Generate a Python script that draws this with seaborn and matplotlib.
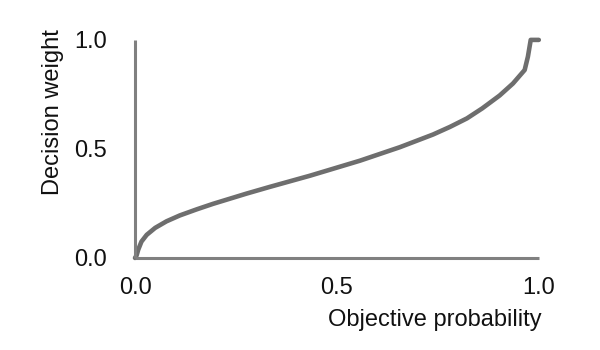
import matplotlib
matplotlib.use("Agg")
import matplotlib.pyplot as plt
import seaborn as sns
import pandas as pd

# Probability weighting curve: objective probability -> decision weight
objective_probability = [0.0, 0.004, 0.008, 0.016, 0.029, 0.050, 0.078, 0.111,
                         0.153, 0.193, 0.276, 0.334, 0.433, 0.557, 0.656,
                         0.738, 0.780, 0.822, 0.860, 0.903, 0.936, 0.965,
                         0.973, 0.980, 1.0]
decision_weight = [0.0, 0.012, 0.038, 0.075, 0.106, 0.138, 0.168, 0.195,
                   0.223, 0.248, 0.295, 0.326, 0.377, 0.446, 0.508, 0.566,
                   0.601, 0.640, 0.686, 0.745, 0.800, 0.862, 0.923, 1.0, 1.0]
tick_values = [0.0, 0.5, 1.0]
tick_labels = ["0.0", "0.5", "1.0"]

sns.set_theme(style="white")
plt.rcParams["font.family"] = ["Liberation Sans", "DejaVu Sans"]

df = pd.DataFrame({"p": objective_probability, "w": decision_weight})

fig = plt.figure(figsize=(6, 3.5), dpi=100)
ax = fig.add_axes([0.225, 0.263, 0.673, 0.623])

sns.lineplot(data=df, x="p", y="w", ax=ax, color="#6e6e6e", linewidth=3.3,
             sort=False, clip_on=False, solid_joinstyle="round")

ax.set_xlim(0, 1)
ax.set_ylim(0, 1)
ax.set_xticks(tick_values)
ax.set_xticklabels(tick_labels)
ax.set_yticks(tick_values)
ax.set_yticklabels(tick_labels)
ax.tick_params(axis="both", length=0, labelsize=17, colors="#111111")
ax.tick_params(axis="x", pad=14)
ax.tick_params(axis="y", pad=20)
ax.set_xlabel("")
ax.set_ylabel("")

for side in ["top", "right"]:
    ax.spines[side].set_visible(False)
for side in ["left", "bottom"]:
    ax.spines[side].set_color("#808080")
    ax.spines[side].set_linewidth(2.2)
    ax.spines[side].set_capstyle("butt")

fig.text(542 / 600, 1 - 320 / 350, "Objective probability", ha="right",
         va="center", fontsize=17, color="#111111")
fig.text(53 / 600, 1 - 29 / 350, "Decision weight", ha="center", va="top",
         rotation=90, fontsize=17, color="#111111")

fig.savefig("out.png", dpi=100, facecolor="white")
